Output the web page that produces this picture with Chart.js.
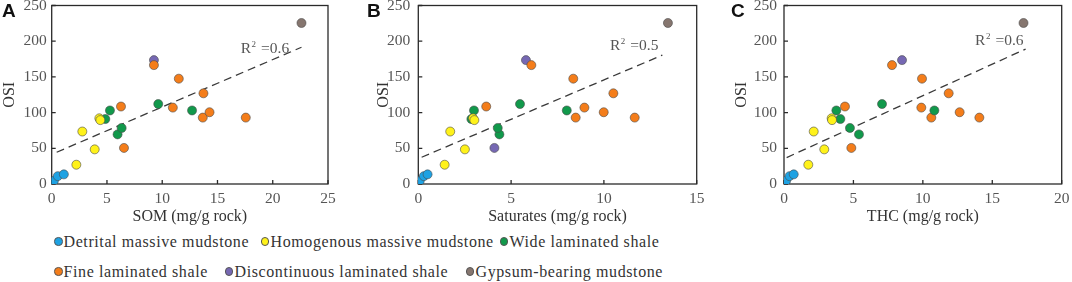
<!DOCTYPE html>
<html><head><meta charset="utf-8">
<script src="https://cdn.jsdelivr.net/npm/chart.js@4.4.1/dist/chart.umd.min.js"></script>
<style>
html,body{margin:0;padding:0;background:#fff;}
body{width:1072px;height:282px;position:relative;overflow:hidden;font-family:"Liberation Serif","Times New Roman",serif;}
canvas{position:absolute;top:0;}
.lbl{position:absolute;font:bold 19px "Liberation Sans",Arial,sans-serif;color:#111;line-height:19px;top:1px;z-index:5}
.leg{position:absolute;font-size:16px;letter-spacing:0.6px;color:#333;line-height:18px;white-space:nowrap;z-index:5}
.dot{position:absolute;width:8.5px;height:8.5px;border-radius:50%;border:0.7px solid #555;box-sizing:border-box;z-index:5}
</style></head>
<body>
<canvas id="cA" width="345" height="226" style="left:0px"></canvas>
<canvas id="cB" width="336" height="226" style="left:374px"></canvas>
<canvas id="cC" width="340" height="226" style="left:732px"></canvas>
<div class="lbl" style="left:2px">A</div>
<div class="lbl" style="left:367px">B</div>
<div class="lbl" style="left:731px">C</div>
<div id="legend"></div>
<script>
// ---- series ----
const seriesNames = ["Detrital massive mudstone","Homogenous massive mudstone","Wide laminated shale","Fine laminated shale","Discontinuous laminated shale","Gypsum-bearing mudstone"];
const seriesColors = ["#1ea2e3","#fff21a","#11994b","#f47d1a","#7668b3","#86766f"];

// ---- OSI values (shared y) ----
const osiDetrital   = [2, 4.5, 11, 13.5];
const osiHomogenous = [27, 73.5, 48.5, 92, 89.5];
const osiWide       = [103, 91, 69.5, 78.5, 112, 103];
const osiFine       = [108.5, 50.5, 166.5, 147.5, 107, 127, 93, 100.5, 93];
const osiDisc       = [173.5];
const osiGypsum     = [225.5];

// ---- Panel A: SOM (mg/g rock) ----
const somDetrital   = [0.1, 0.2, 0.55, 1.1];
const somHomogenous = [2.23, 2.77, 3.89, 4.31, 4.4];
const somWide       = [5.27, 4.85, 5.96, 6.33, 9.64, 12.7];
const somFine       = [6.27, 6.54, 9.25, 11.5, 10.96, 13.73, 13.67, 14.28, 17.56];
const somDisc       = [9.25];
const somGypsum     = [22.6];
const trendSomX = [0.45, 22.6];
const trendSomY = [44.5, 191.5];

// ---- Panel B: Saturates (mg/g rock) ----
const satDetrital   = [0.02, 0.08, 0.3, 0.5];
const satHomogenous = [1.42, 1.72, 2.51, 2.95, 3.02];
const satWide       = [3.0, 2.86, 4.37, 4.28, 5.48, 8.0];
const satFine       = [3.66, 6.09, 8.35, 8.95, 10.51, 8.48, 9.99, 11.66];
const osiFineB      = [108.5, 166.5, 147.5, 107, 127, 93, 100.5, 93];
const satDisc       = [5.8, 4.1];
const osiDiscB      = [173.5, 50.5];
const satGypsum     = [13.45];
const trendSatX = [0.18, 13.15];
const trendSatY = [37.5, 180.5];

// ---- Panel C: THC (mg/g rock) ----
const thcDetrital   = [0.05, 0.15, 0.4, 0.7];
const thcHomogenous = [1.75, 2.14, 2.9, 3.43, 3.46];
const thcWide       = [3.77, 4.06, 5.4, 4.75, 7.06, 10.83];
const thcFine       = [4.39, 4.85, 7.78, 9.94, 9.89, 11.86, 10.61, 12.65, 14.07];
const thcDisc       = [8.5];
const thcGypsum     = [17.25];
const trendThcX = [0.19, 17.4];
const trendThcY = [37, 189];

const xTitles = ["SOM (mg/g rock)", "Saturates (mg/g rock)", "THC (mg/g rock)"];
const xMaxes = [25, 15, 20];
const r2Labels = ["0.6", "0.5", "0.6"];
const yTitle = "OSI";

const FONT = '"Liberation Serif","Times New Roman",serif';

function pts(xs, ys){ return xs.map((x,i)=>({x:x, y:ys[i]})); }

const boxPlugin = {
  id:'box',
  beforeDatasetsDraw(chart){
    const {ctx, chartArea:a, scales:{x,y}} = chart;
    ctx.save();
    ctx.strokeStyle = '#2a2a2a'; ctx.lineWidth = 1.3;
    ctx.strokeRect(a.left, a.top, a.right-a.left, a.bottom-a.top);
    ctx.beginPath();
    y.ticks.forEach(t=>{ const p = y.getPixelForValue(t.value); ctx.moveTo(a.left, p); ctx.lineTo(a.left+4, p); });
    x.ticks.forEach(t=>{ const p = x.getPixelForValue(t.value); ctx.moveTo(p, a.bottom); ctx.lineTo(p, a.bottom-4); });
    ctx.stroke();
    ctx.restore();
  }
};
const r2Plugin = {
  id:'r2',
  afterDatasetsDraw(chart, args, opts){
    const {ctx, scales:{x,y}} = chart;
    const px = x.getPixelForValue(opts.x), py = y.getPixelForValue(opts.y);
    ctx.save();
    ctx.fillStyle = '#555'; ctx.textBaseline = 'alphabetic'; ctx.textAlign = 'left';
    ctx.font = '15.5px ' + FONT;
    ctx.fillText('R', px, py);
    const wR = ctx.measureText('R').width;
    ctx.font = '9px ' + FONT;
    ctx.fillText('2', px + wR + 0.5, py - 6);
    ctx.font = '15.5px ' + FONT;
    ctx.fillText('=' + opts.text, px + wR + 10, py);
    ctx.restore();
  }
};

function makeChart(id, groups, trendX, trendY, xTitle, xMax, r2, lay){
  const datasets = groups.map(g => ({
    data: pts(g.x, g.y),
    backgroundColor: seriesColors[g.s],
    borderColor: '#4a4a4a',
    borderWidth: 0.6,
    pointRadius: 4.5,
    order: 1
  }));
  datasets.push({
    type:'line', data: pts(trendX, trendY), showLine:true,
    borderColor:'#3a3a3a', borderWidth:1.3, borderDash:[8,5],
    pointRadius:0, fill:false, order:10
  });
  return new Chart(document.getElementById(id), {
    type:'scatter',
    data:{datasets},
    options:{
      responsive:false, animation:false, devicePixelRatio:1,
      layout:{padding:{left:0, right:lay.padRight, top:5.5, bottom:0}},
      plugins:{legend:{display:false}, tooltip:{enabled:false}, r2:{text:r2, x:lay.r2x, y:lay.r2y}},
      scales:{
        x:{type:'linear', min:0, max:xMax,
           ticks:{stepSize:5, autoSkip:false, maxRotation:0, padding:6, color:'#555', font:{family:FONT, size:15.5}},
           grid:{display:false, drawTicks:false}, border:{display:false},
           title:{display:true, text:xTitle, color:'#333', font:{family:FONT, size:16}, padding:0},
           afterFit(s){ s.height = 42; s.paddingLeft = 0; s.paddingRight = 0; }},
        y:{type:'linear', min:0, max:250,
           ticks:{stepSize:50, padding:lay.yPad, color:'#555', font:{family:FONT, size:15.5}},
           grid:{display:false, drawTicks:false}, border:{display:false},
           title:{display:true, text:yTitle, color:'#333', font:{family:FONT, size:16}, padding:0},
           afterFit(s){ s.width = lay.yWidth; s.paddingTop = 0; s.paddingBottom = 0; }}
      }
    },
    plugins:[boxPlugin, r2Plugin]
  });
}

makeChart('cA', [
  {s:0, x:somDetrital, y:osiDetrital},
  {s:1, x:somHomogenous, y:osiHomogenous},
  {s:2, x:somWide, y:osiWide},
  {s:3, x:somFine, y:osiFine},
  {s:4, x:somDisc, y:osiDisc},
  {s:5, x:somGypsum, y:osiGypsum}
], trendSomX, trendSomY, xTitles[0], xMaxes[0], r2Labels[0], {padRight:17, yWidth:51.7, yPad:5, r2x:17.1, r2y:183.5});

makeChart('cB', [
  {s:0, x:satDetrital, y:osiDetrital},
  {s:1, x:satHomogenous, y:osiHomogenous},
  {s:2, x:satWide, y:osiWide},
  {s:3, x:satFine, y:osiFineB},
  {s:4, x:satDisc, y:osiDiscB},
  {s:5, x:satGypsum, y:osiGypsum}
], trendSatX, trendSatY, xTitles[1], xMaxes[1], r2Labels[1], {padRight:13.3, yWidth:44.3, yPad:8, r2x:10.33, r2y:188});

makeChart('cC', [
  {s:0, x:thcDetrital, y:osiDetrital},
  {s:1, x:thcHomogenous, y:osiHomogenous},
  {s:2, x:thcWide, y:osiWide},
  {s:3, x:thcFine, y:osiFine},
  {s:4, x:thcDisc, y:osiDisc},
  {s:5, x:thcGypsum, y:osiGypsum}
], trendThcX, trendThcY, xTitles[2], xMaxes[2], r2Labels[2], {padRight:10.3, yWidth:52, yPad:7, r2x:13.76, r2y:195});

// ---- legend (HTML) ----
const legendPos = [
  {dx:58.3, tx:63.5, cy:241.7}, {dx:265, tx:270.5, cy:241.7}, {dx:504, tx:509.5, cy:241.7},
  {dx:58.3, tx:63.5, cy:271.7}, {dx:229, tx:234.5, cy:271.7}, {dx:470, tx:475.5, cy:271.7}
];
const leg = document.getElementById('legend');
seriesNames.forEach((n,i)=>{
  const p = legendPos[i];
  const d = document.createElement('div'); d.className='dot';
  d.style.left = (p.dx-4.25)+'px'; d.style.top = (p.cy-4.25)+'px'; d.style.background = seriesColors[i];
  leg.appendChild(d);
  const t = document.createElement('div'); t.className='leg'; t.textContent = n;
  t.style.left = p.tx+'px'; t.style.top = (p.cy-9)+'px';
  leg.appendChild(t);
});
</script>
</body></html>
